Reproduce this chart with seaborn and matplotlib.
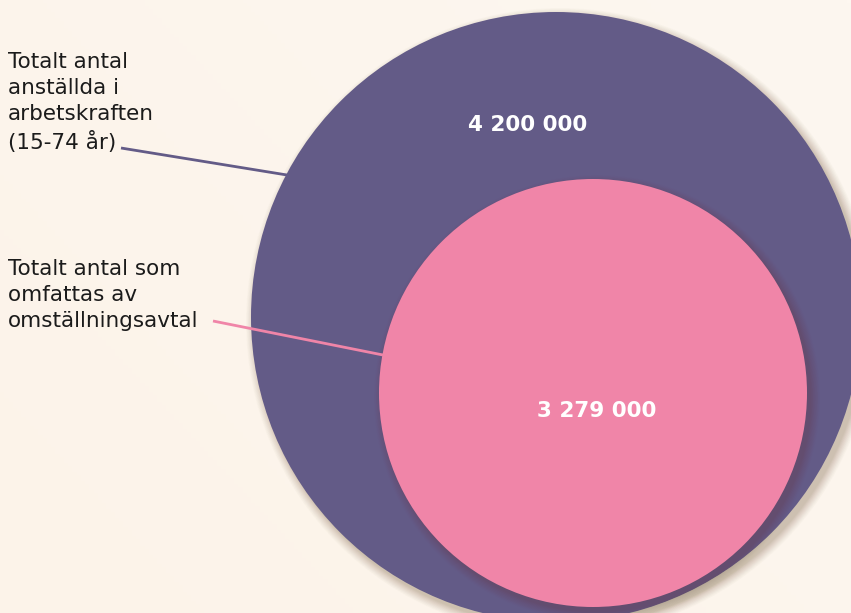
import numpy as np
import matplotlib
matplotlib.use("Agg")
import matplotlib.pyplot as plt
from matplotlib.patches import Circle
import seaborn as sns

# Data
groups = ["Totalt antal\nanställda i\narbetskraften\n(15-74 år)",
          "Totalt antal som\nomfattas av\nomställningsavtal"]
values = [4200000, 3279000]
value_labels = ["4 200 000", "3 279 000"]

sns.set_theme(style="white")
plt.rcParams["font.family"] = ["DejaVu Sans"]

colors = ["#635B87", "#F085A8"]

W, H = 851, 613
fig = plt.figure(figsize=(W / 100, H / 100), dpi=100)
ax = fig.add_axes([0, 0, 1, 1])
ax.set_xlim(0, W)
ax.set_ylim(H, 0)
ax.set_aspect("equal")
ax.axis("off")

# Cream background with a faint warm gradient
yy, xx = np.mgrid[0:1:200j, 0:1:200j]
t = np.clip(0.6 * (1 - xx) + 0.4 * yy, 0, 1)[..., None]
c1 = np.array([252, 243, 233]) / 255
c2 = np.array([253, 247, 240]) / 255
bg = c2 * (1 - t) + c1 * t
ax.imshow(bg, extent=[0, W, H, 0], zorder=0, aspect="auto")

# Layout of the nested circles (centre x, centre y, radius in px)
layout = [(556, 317, 305), (593, 393, 214)]
shadow_strength = [1.0, 0.6]


def soft_shadow(cx, cy, r, z, s):
    for i in range(14):
        k = i / 13
        ax.add_patch(Circle((cx + 4, cy + 5), r + 9 * (1 - k),
                            color="#6b4a2a", alpha=s * (0.015 + 0.017 * k),
                            lw=0, zorder=z))


for (cx, cy, r), col, z, s in zip(layout, colors, [2, 4], shadow_strength):
    soft_shadow(cx, cy, r, z - 0.5, s)
    ax.add_patch(Circle((cx, cy), r, color=col, lw=0, zorder=z))

# Value labels inside the circles
label_pos = [(528, 125), (597, 411)]
for (x, y), txt in zip(label_pos, value_labels):
    ax.text(x, y, txt, color="white", fontsize=15.5, fontweight="bold",
            ha="center", va="center", zorder=6)

# Group labels and leader lines
text_pos = [(8, 52), (8, 259)]
leaders = [((121, 148), (287, 175)), ((213, 321), (383, 355))]
for (x, y), txt, col, (p0, p1) in zip(text_pos, groups, colors, leaders):
    ax.text(x, y, txt, color="#1b1b1b", fontsize=15.5,
            ha="left", va="top", linespacing=1.39, zorder=6)
    ax.plot([p0[0], p1[0]], [p0[1], p1[1]], color=col, lw=2,
            solid_capstyle="butt", zorder=5)

fig.savefig("out.png", dpi=100)
